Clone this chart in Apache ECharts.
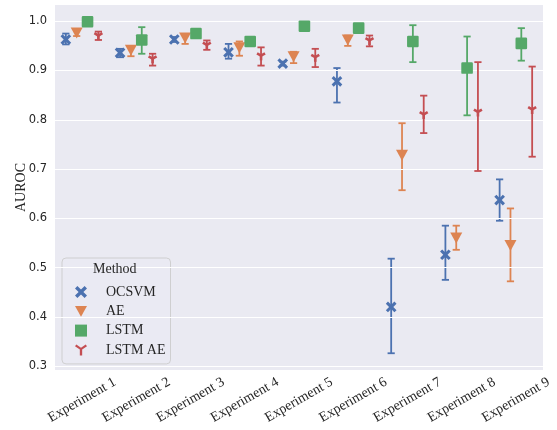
<!DOCTYPE html>
<html>
<head>
<meta charset="utf-8">
<script src="https://cdn.jsdelivr.net/npm/echarts@6/dist/echarts.min.js"></script>
<style>html,body{margin:0;padding:0;background:#fff;}#main{width:557px;height:430px;}</style>
</head>
<body>
<div id="main"></div>
<script>
const categories = ['Experiment 1','Experiment 2','Experiment 3','Experiment 4','Experiment 5','Experiment 6','Experiment 7','Experiment 8','Experiment 9'];
const methods = ['OCSVM','AE','LSTM','LSTM AE'];
const yTicks = [0.3,0.4,0.5,0.6,0.7,0.8,0.9,1.0];

const ocsvmMean = [0.963,0.936,0.963,0.937,0.914,0.878,0.420,0.526,0.637];
const ocsvmLow  = [0.953,0.927,0.958,0.924,0.910,0.835,0.326,0.475,0.595];
const ocsvmHigh = [0.975,0.944,0.968,0.954,0.918,0.905,0.518,0.585,0.679];

const aeMean = [0.976,0.941,0.966,0.946,0.928,0.962,0.728,0.560,0.545];
const aeLow  = [0.970,0.929,0.954,0.930,0.915,0.950,0.657,0.536,0.472];
const aeHigh = [0.982,0.950,0.974,0.959,0.938,0.971,0.793,0.585,0.620];

const lstmMean = [0.999,0.962,0.975,0.959,0.990,0.986,0.959,0.905,0.955];
const lstmLow  = [0.997,0.934,0.972,0.956,0.988,0.983,0.917,0.809,0.920];
const lstmHigh = [1.000,0.988,0.978,0.962,0.992,0.989,0.992,0.969,0.986];

const lstmAeMean = [0.971,0.924,0.952,0.930,0.927,0.961,0.811,0.816,0.821];
const lstmAeLow  = [0.962,0.910,0.942,0.910,0.907,0.949,0.773,0.696,0.725];
const lstmAeHigh = [0.979,0.934,0.961,0.947,0.944,0.971,0.849,0.917,0.908];

const colors = ['#4C72B0','#DD8452','#55A868','#C44E52'];
const offsets = [-0.3,-0.1,0.1,0.3];
const serif = '"Liberation Serif", "DejaVu Serif", serif';

function rows(m, lo, hi) { return m.map((v, i) => [i, v, lo[i], hi[i]]); }
const seriesData = [
  rows(ocsvmMean, ocsvmLow, ocsvmHigh),
  rows(aeMean, aeLow, aeHigh),
  rows(lstmMean, lstmLow, lstmHigh),
  rows(lstmAeMean, lstmAeLow, lstmAeHigh)
];

function markerShape(k, px, py, color) {
  if (k === 0) {
    const base = [[0,2],[2,0],[5,3],[8,0],[10,2],[7,5],[10,8],[8,10],[5,7],[2,10],[0,8],[3,5]];
    const pts = base.map(p => [px + (p[0]-5)*1.07, py + (p[1]-5)*1.07]);
    return {type:'polygon', shape:{points:pts}, style:{fill:color}};
  } else if (k === 1) {
    return {type:'polygon', shape:{points:[[px-6,py-5.5],[px+6,py-5.5],[px,py+5.5]]}, style:{fill:color}};
  } else if (k === 2) {
    return {type:'rect', shape:{x:px-5.8,y:py-5.8,width:11.6,height:11.6,r:1.2}, style:{fill:color}};
  } else {
    return {type:'group', children:[
      {type:'line', shape:{x1:px,y1:py,x2:px,y2:py+4.6}, style:{stroke:color,lineWidth:2.6}},
      {type:'line', shape:{x1:px,y1:py,x2:px-4.0,y2:py-2.3}, style:{stroke:color,lineWidth:2.6}},
      {type:'line', shape:{x1:px,y1:py,x2:px+4.0,y2:py-2.3}, style:{stroke:color,lineWidth:2.6}}
    ]};
  }
}

function makeRender(k) {
  return function(params, api) {
    const xi = api.value(0);
    const c = api.coord([xi, api.value(1)]);
    const band = api.size([1, 0])[0];
    const px = c[0] + offsets[k] * band;
    const yLo = api.coord([xi, api.value(2)])[1];
    const yHi = api.coord([xi, api.value(3)])[1];
    const color = colors[k];
    const st = {stroke: color, lineWidth: 1.8};
    return {type:'group', children:[
      {type:'line', shape:{x1:px,y1:yLo,x2:px,y2:yHi}, style:st},
      {type:'line', shape:{x1:px-3.6,y1:yLo,x2:px+3.6,y2:yLo}, style:st},
      {type:'line', shape:{x1:px-3.6,y1:yHi,x2:px+3.6,y2:yHi}, style:st},
      markerShape(k, px, c[1], color)
    ]};
  };
}

const icons = [
  'path://M0,2L2,0L5,3L8,0L10,2L7,5L10,8L8,10L5,7L2,10L0,8L3,5Z',
  'path://M0,0L10,0L5,9Z',
  'path://M0,0L10,0L10,10L0,10Z',
  'path://M0.2,1.2L1.1,0L4.3,2.2L7.5,0L8.4,1.2L5.1,3.4L5.1,7.5L3.5,7.5L3.5,3.4Z'
];

const chart = echarts.init(document.getElementById('main'), null, {renderer:'canvas'});
const series = methods.map((name, k) => ({
  name: name,
  type: 'custom',
  renderItem: makeRender(k),
  data: seriesData[k],
  itemStyle: {color: colors[k]},
  encode: {x: 0, y: 1},
  z: 3 + k,
  clip: false
}));
series.unshift({
  name: 'grid',
  type: 'line',
  data: [],
  z: 1,
  silent: true,
  markLine: {
    silent: true,
    symbol: ['none','none'],
    label: {show: false},
    lineStyle: {color: '#ffffff', width: 1.2, type: 'solid'},
    emphasis: {disabled: true},
    data: yTicks.map(v => ({yAxis: v}))
  }
});

chart.setOption({
  animation: false,
  color: colors,
  grid: {left: 55, right: 14, top: 5, bottom: 60, show: true, backgroundColor: '#EAEAF2', borderWidth: 0,
         containLabel: false, outerBoundsMode: 'none'},
  xAxis: {
    type: 'category',
    data: categories,
    axisLine: {show: false},
    axisTick: {show: false},
    splitLine: {show: false},
    axisLabel: {
      interval: 0, rotate: 30, align: 'center', verticalAlign: 'middle', margin: 30,
      fontFamily: serif, fontSize: 14, color: '#262626'
    }
  },
  yAxis: {
    type: 'value',
    min: 0.292, max: 1.033,
    name: 'AUROC', nameLocation: 'middle', nameGap: 27, nameMoveOverlap: false,
    nameTextStyle: {fontFamily: serif, fontSize: 14, color: '#262626'},
    axisLine: {show: false},
    axisTick: {show: false},
    splitLine: {show: false},
    axisLabel: {
      customValues: yTicks,
      formatter: v => v.toFixed(1),
      fontFamily: '"DejaVu Sans", sans-serif', fontSize: 11.5, color: '#262626', margin: 8
    }
  },
  legend: {
    data: methods.map((m, k) => ({name: m, icon: icons[k]})),
    orient: 'vertical',
    left: 62, top: 258,
    padding: [27, 5, 7, 13],
    itemWidth: 12, itemHeight: 12, itemGap: 5.3,
    selectedMode: false,
    backgroundColor: 'rgba(234,234,242,0.8)',
    borderColor: 'rgba(204,204,204,0.9)',
    borderWidth: 1,
    borderRadius: 4,
    textStyle: {fontFamily: serif, fontSize: 14, color: '#262626', padding: [0,0,0,14]}
  },
  graphic: [{
    type: 'text', left: 93, top: 262, z: 100,
    style: {text: 'Method', font: '14px "Liberation Serif", serif', fill: '#262626'}
  }],
  series: series
});
</script>
</body>
</html>
